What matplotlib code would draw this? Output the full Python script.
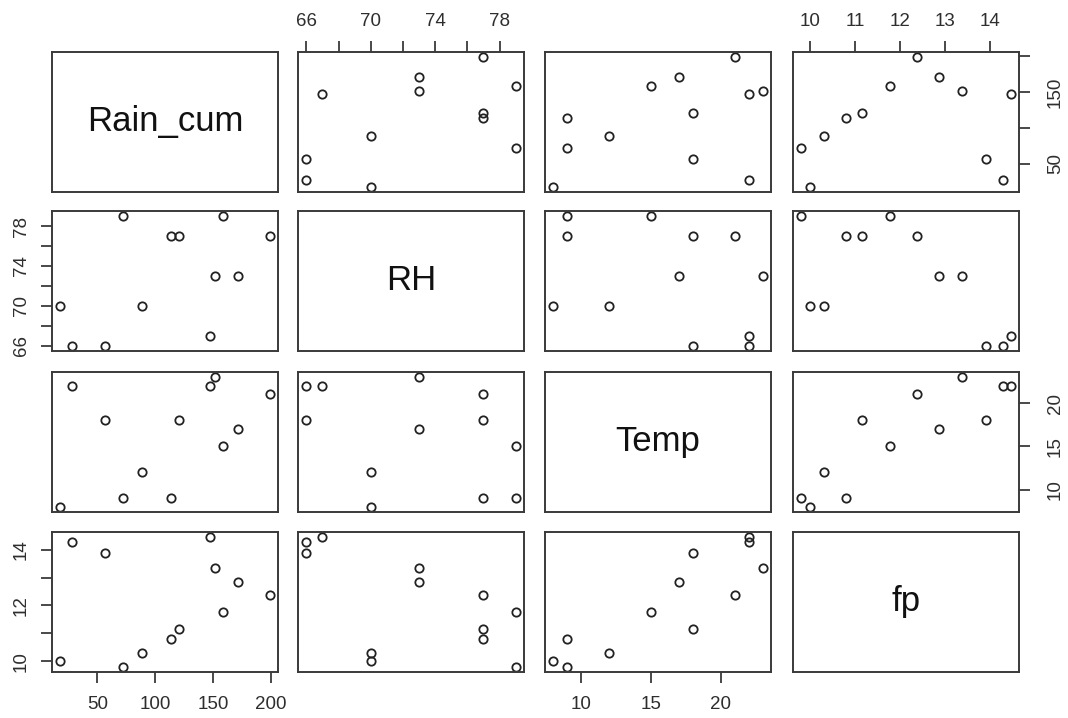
import matplotlib
matplotlib.use("Agg")
import matplotlib.pyplot as plt

plt.rcParams['font.family'] = ['Liberation Sans', 'DejaVu Sans']

# Data (12 observations)
rain_cum = [18, 28, 57, 72, 89, 114, 121, 147, 152, 159, 172, 199]
rh = [70, 66, 66, 79, 70, 77, 77, 67, 73, 79, 73, 77]
temp = [8, 22, 18, 9, 12, 9, 18, 22, 23, 15, 17, 21]
fp = [10.0, 14.27, 13.9, 9.8, 10.3, 10.8, 11.15, 14.45, 13.36, 11.77, 12.86, 12.38]

names = ["Rain_cum", "RH", "Temp", "fp"]
data = [rain_cum, rh, temp, fp]

# tick positions and labels per variable
ticks = {
    "Rain_cum": [50, 100, 150, 200],
    "RH": [66, 68, 70, 72, 74, 76, 78],
    "Temp": [10, 15, 20],
    "fp": [10, 11, 12, 13, 14],
}
labels_x = {
    "Rain_cum": ["50", "100", "150", "200"],
    "RH": ["66", "", "70", "", "74", "", "78"],
    "Temp": ["10", "15", "20"],
    "fp": ["10", "11", "12", "13", "14"],
}
labels_y = {
    "Rain_cum": ["50", "", "150", ""],
    "RH": ["66", "", "70", "", "74", "", "78"],
    "Temp": ["10", "15", "20"],
    "fp": ["10", "", "12", "", "14"],
}

W, H = 1068, 718
fig = plt.figure(figsize=(W / 100, H / 100), dpi=100)

col_left = [52, 298, 545, 793]
row_top = [52, 211, 372, 532]
pw, ph = 226, 140

def lims(v):
    lo, hi = min(v), max(v)
    p = (hi - lo) * 0.04
    return lo - p, hi + p

frame_c = "#3a3a3a"
text_c = "#2e2e2e"
fs = 13.5
n = len(names)
for i in range(n):
    for j in range(n):
        ax = fig.add_axes([col_left[j] / W, 1 - (row_top[i] + ph) / H, pw / W, ph / H])
        for s in ax.spines.values():
            s.set_color(frame_c)
            s.set_linewidth(1.4)
        xv, yv = data[j], data[i]
        ax.set_xlim(*lims(xv))
        ax.set_ylim(*lims(yv))
        if i == j:
            ax.text(0.5, 0.5, names[i], transform=ax.transAxes, ha="center",
                    va="center", fontsize=25, color="#111111")
        else:
            ax.plot(xv, yv, linestyle="none", marker="o", markersize=6,
                    markerfacecolor="none", markeredgecolor="#222222",
                    markeredgewidth=1.3)
        ax.set_xticks([])
        ax.set_yticks([])
        common = dict(length=8, width=1.3, color=frame_c, labelsize=fs, labelcolor=text_c)
        # x axes
        if i == 0 and j % 2 == 1:
            ax.set_xticks(ticks[names[j]])
            ax.set_xticklabels(labels_x[names[j]])
            ax.xaxis.tick_top()
            ax.tick_params(axis="x", top=True, bottom=False, labeltop=True, labelbottom=False,
                           pad=8, **common)
        if i == n - 1 and j % 2 == 0:
            ax.set_xticks(ticks[names[j]])
            ax.set_xticklabels(labels_x[names[j]])
            ax.tick_params(axis="x", pad=9, **common)
        # y axes
        if j == 0 and i % 2 == 1:
            ax.set_yticks(ticks[names[i]])
            ax.set_yticklabels(labels_y[names[i]], rotation=90, va="center")
            ax.tick_params(axis="y", pad=8, **common)
        if j == n - 1 and i % 2 == 0:
            ax.set_yticks(ticks[names[i]])
            ax.set_yticklabels(labels_y[names[i]], rotation=90, va="center")
            ax.yaxis.tick_right()
            ax.tick_params(axis="y", left=False, right=True, labelleft=False, labelright=True,
                           pad=12, **common)

fig.savefig("out.png", dpi=100, facecolor="white")
